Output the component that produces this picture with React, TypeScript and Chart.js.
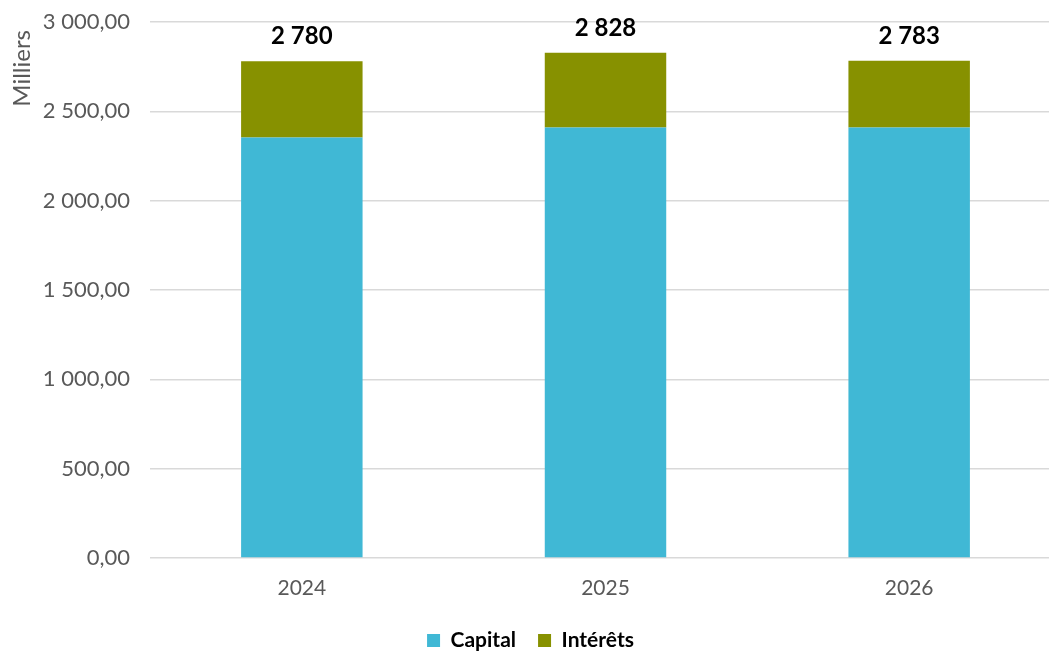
import React, { useEffect, useRef } from "react";
import { Chart, registerables } from "chart.js";

Chart.register(...registerables);

const categories = ["2024", "2025", "2026"];
const capitalValues = [2353, 2410, 2410];
const interetsValues = [427, 418, 373];
const yTicks = [0, 500, 1000, 1500, 2000, 2500, 3000];
const yTitle = "Milliers";

const FONT = "Lato, 'Open Sans', sans-serif";

function groupThousands(intStr: string): string {
  return intStr.replace(/\B(?=(\d{3})+(?!\d))/g, " ");
}

function formatTick(v: number): string {
  const [i, d] = v.toFixed(2).split(".");
  return groupThousands(i) + "," + d;
}

const totalLabels = {
  id: "totalLabels",
  afterDatasetsDraw(chart: any) {
    const ctx = chart.ctx;
    const lastMeta = chart.getDatasetMeta(chart.data.datasets.length - 1);
    ctx.save();
    ctx.font = `bold 24px ${FONT}`;
    ctx.fillStyle = "#000000";
    ctx.textAlign = "center";
    ctx.textBaseline = "alphabetic";
    categories.forEach((_, i) => {
      const total = chart.data.datasets.reduce((s: number, ds: any) => s + (ds.data[i] as number), 0);
      const el = lastMeta.data[i];
      ctx.fillText(groupThousands(String(Math.round(total))), el.x, el.y - 17);
    });
    ctx.restore();
  },
};

const axisTitle = {
  id: "axisTitle",
  afterDraw(chart: any) {
    const ctx = chart.ctx;
    const top = chart.chartArea.top;
    ctx.save();
    ctx.translate(chart.scales.y.left + 22, top + 8);
    ctx.rotate(-Math.PI / 2);
    ctx.font = `24px ${FONT}`;
    ctx.fillStyle = "#595959";
    ctx.textAlign = "right";
    ctx.textBaseline = "middle";
    ctx.fillText(yTitle, 0, 0);
    ctx.restore();
  },
};

export default function App() {
  const ref = useRef<HTMLCanvasElement | null>(null);

  useEffect(() => {
    if (!ref.current) return;
    const chart = new Chart(ref.current, {
      type: "bar",
      data: {
        labels: categories,
        datasets: [
          {
            label: "Capital",
            data: capitalValues,
            backgroundColor: "#40B8D5",
            borderWidth: 0,
            barPercentage: 0.4,
            categoryPercentage: 1,
          },
          {
            label: "Intérêts",
            data: interetsValues,
            backgroundColor: "#879100",
            borderWidth: 0,
            barPercentage: 0.4,
            categoryPercentage: 1,
          },
        ],
      },
      options: {
        responsive: false,
        animation: false,
        devicePixelRatio: 1,
        layout: { padding: { top: 22, right: 30, left: 0, bottom: 0 } },
        plugins: {
          legend: {
            position: "bottom",
            labels: {
              boxWidth: 13,
              boxHeight: 13,
              padding: 22,
              color: "#000000",
              font: { family: FONT, size: 21, weight: "bold" },
            },
          },
          tooltip: { enabled: false },
        },
        scales: {
          x: {
            stacked: true,
            grid: { display: false, drawTicks: false },
            border: { display: false },
            ticks: {
              color: "#595959",
              padding: 18,
              font: { family: FONT, size: 21 },
            },
            afterFit: (scale: any) => {
              scale.height = 50;
            },
          },
          y: {
            stacked: true,
            min: 0,
            max: 3000,
            afterBuildTicks: (scale: any) => {
              scale.ticks = yTicks.map((v) => ({ value: v }));
            },
            grid: { color: "#d9d9d9", lineWidth: 1.5, drawTicks: false },
            border: { display: false },
            ticks: {
              color: "#595959",
              padding: 20,
              font: { family: FONT, size: 22 },
              callback: (v: any) => formatTick(Number(v)),
            },
            afterFit: (scale: any) => {
              scale.width = 150;
              scale.paddingTop = 0;
              scale.paddingBottom = 0;
            },
          },
        },
      },
      plugins: [totalLabels, axisTitle],
    });
    return () => chart.destroy();
  }, []);

  return (
    <div
      style={{
        position: "fixed",
        left: 0,
        top: 0,
        width: 1049,
        height: 652,
        overflow: "hidden",
        background: "#ffffff",
      }}
    >
      <canvas ref={ref} width={1091} height={661} style={{ display: "block" }} />
    </div>
  );
}
